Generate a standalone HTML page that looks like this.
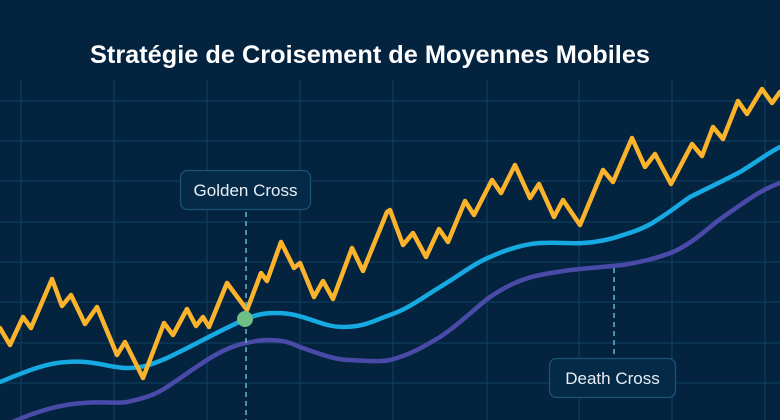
<!DOCTYPE html>
<html><head><meta charset="utf-8"><style>
html,body{margin:0;padding:0;background:#03233f;}
svg{display:block}
</style></head><body>
<svg width="780" height="420" viewBox="0 0 780 420" xmlns="http://www.w3.org/2000/svg">
<rect width="780" height="420" fill="#03233f"/>
<g stroke="#0f3b5c" stroke-width="1.3">
<line x1="21" y1="80" x2="21" y2="420"/><line x1="114" y1="80" x2="114" y2="420"/><line x1="207" y1="80" x2="207" y2="420"/><line x1="300" y1="80" x2="300" y2="420"/><line x1="393" y1="80" x2="393" y2="420"/><line x1="487" y1="80" x2="487" y2="420"/><line x1="579" y1="80" x2="579" y2="420"/><line x1="672" y1="80" x2="672" y2="420"/><line x1="765" y1="80" x2="765" y2="420"/>
<line x1="0" y1="101" x2="780" y2="101"/><line x1="0" y1="141" x2="780" y2="141"/><line x1="0" y1="181" x2="780" y2="181"/><line x1="0" y1="222" x2="780" y2="222"/><line x1="0" y1="262" x2="780" y2="262"/><line x1="0" y1="302" x2="780" y2="302"/><line x1="0" y1="343" x2="780" y2="343"/><line x1="0" y1="383" x2="780" y2="383"/>
</g>
<text x="90" y="63" fill="#ffffff" font-family="Liberation Sans, sans-serif" font-weight="bold" font-size="25" textLength="560" lengthAdjust="spacingAndGlyphs">Stratégie de Croisement de Moyennes Mobiles</text>
<g fill="none" stroke-linecap="round" stroke-linejoin="round" stroke-width="4.5">
<path stroke="#4a4aa8" d="M0,428 C20,418 50,405 83,403 C105,401 115,404 127,402 C145,398 155,395 167,387 C200,365 220,348 246,343 C255,341 262,340 267,340 C285,340 290,343 300,347 C320,354 335,360 350,360 C370,361 380,362 390,360 C410,355 425,346 440,337 C460,324 475,308 490,297 C505,287 520,279 540,275 C560,271 570,270 580,269 C600,267 612,266 623,265 C640,262 655,259 673,252 C695,242 705,230 723,217 C745,202 760,190 780,183"/>
<path stroke="#17a9e1" d="M0,382 C25,372 45,363 67,362 C95,360 110,368 127,368 C145,368 155,363 167,358 C195,345 220,330 246,319 C258,314 265,313 277,313 C305,313 320,327 343,327 C365,327 375,320 390,315 C410,308 425,296 440,287 C460,275 475,263 490,257 C510,248 525,244 540,243 C560,242 570,244 583,243 C600,242 612,239 623,235 C640,230 650,225 657,220 C670,212 680,204 690,197 C710,187 725,180 740,172 C755,163 768,153 780,147"/>
<path stroke="#fbb32c" d="M0,328 L10,345 L23,317 L31,328 L52,279 L62,306 L71,295 L85,324 L97,307 L117,355 L125,342 L143,378 L164,323 L173,335 L187,309 L196,326 L203,317 L209,327 L227,283 L247,310 L261,273 L267,281 L281,242 L294,268 L300,263 L314,297 L323,281 L333,299 L352,248 L363,271 L387,212 L390,210 L403,245 L413,233 L426,257 L439,229 L448,242 L465,201 L474,215 L492,180 L501,193 L515,165 L530,198 L539,184 L554,217 L563,200 L580,225 L603,170 L613,182 L632,138 L645,167 L655,154 L671,184 L692,144 L702,156 L713,127 L723,139 L738,101 L747,114 L762,89 L772,103 L780,92"/>
</g>
<g stroke="#5fb8c8" stroke-width="1.5" stroke-dasharray="5,4">
<line x1="246" y1="212" x2="246" y2="420"/>
<line x1="614" y1="268" x2="614" y2="356"/>
</g>
<circle cx="245" cy="319" r="8" fill="#6dbf84"/>
<g font-family="Liberation Sans, sans-serif" font-size="17" fill="#e8eef4" text-anchor="middle">
<rect x="180.5" y="170.5" width="130" height="39" rx="7" fill="#052a48" stroke="#1d5577" stroke-width="1.2"/>
<text x="245.5" y="196">Golden Cross</text>
<rect x="549.5" y="358.5" width="126" height="39" rx="7" fill="#052a48" stroke="#1d5577" stroke-width="1.2"/>
<text x="612.5" y="384">Death Cross</text>
</g>
</svg>
</body></html>
